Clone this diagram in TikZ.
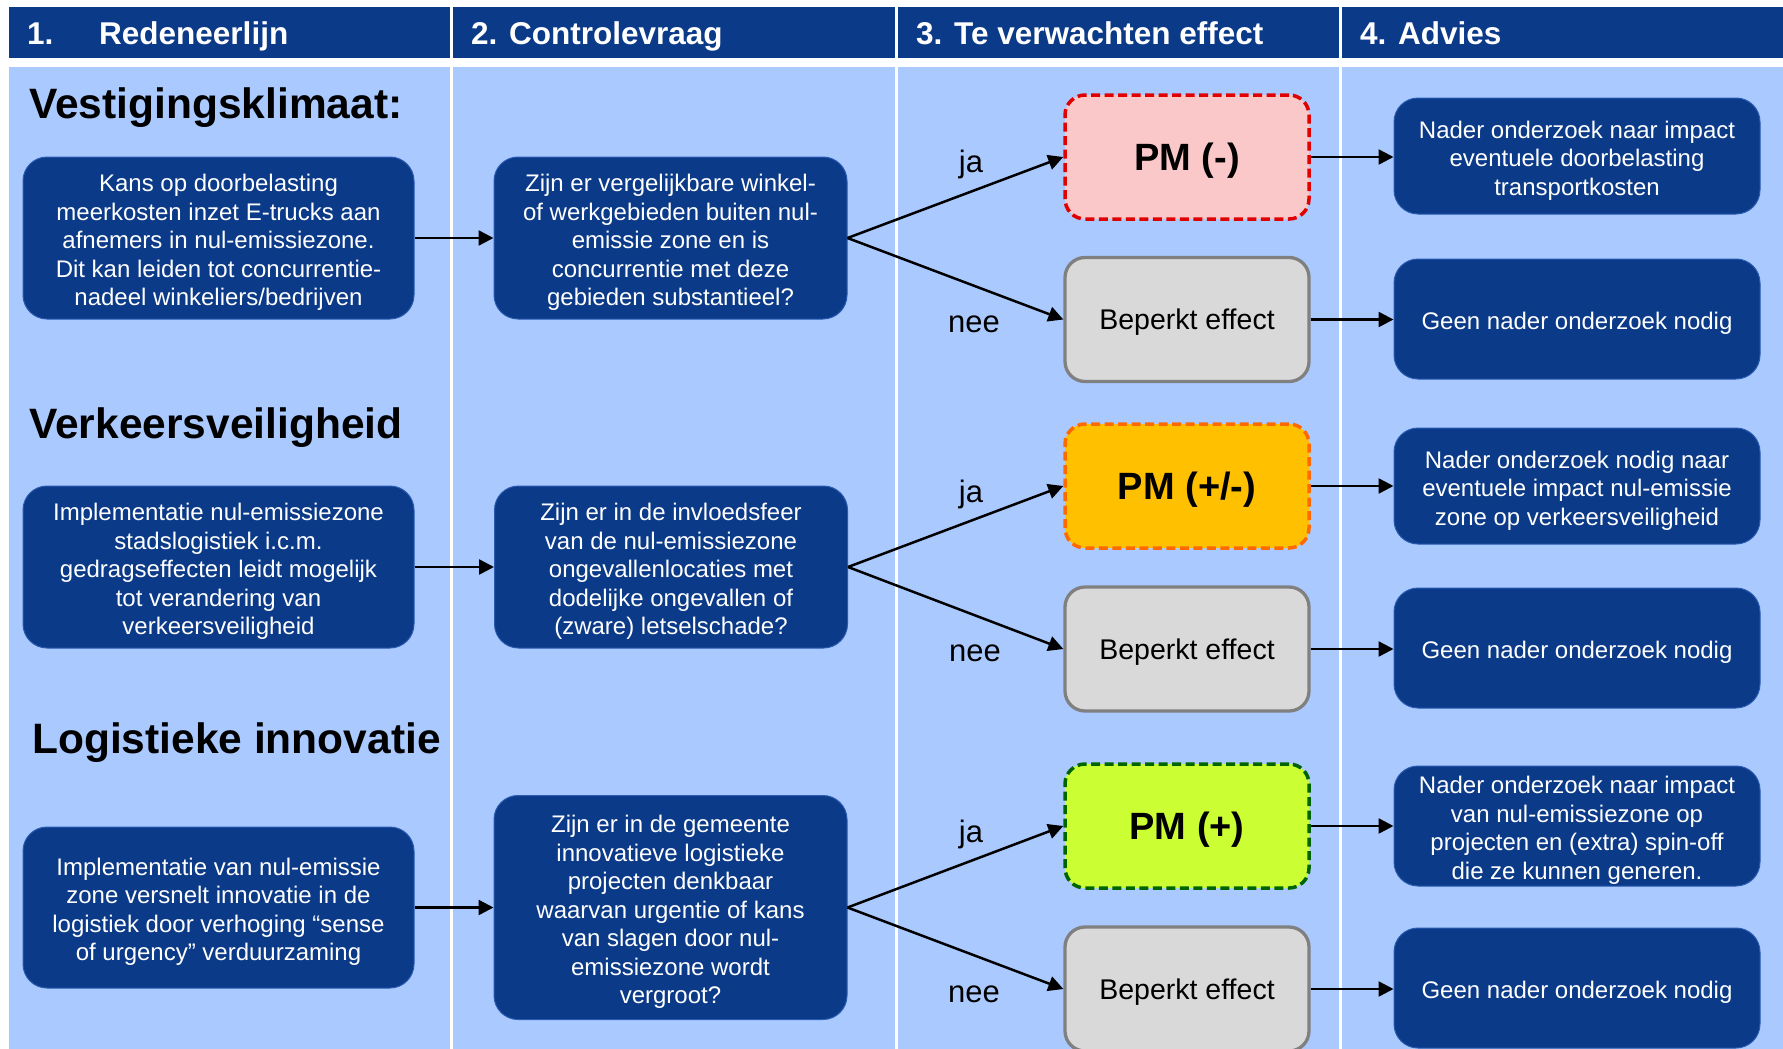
\documentclass[tikz,border=0pt]{standalone}
\usepackage{fontspec}
\setmainfont{Liberation Sans}
\usetikzlibrary{arrows.meta}
\definecolor{navy}{HTML}{0B3A88}
\definecolor{navyedge}{HTML}{2A5BB0}
\definecolor{lblue}{HTML}{AACAFF}
\definecolor{pmred}{HTML}{FAC8C8}
\definecolor{redb}{HTML}{E00000}
\definecolor{pmorange}{HTML}{FFC000}
\definecolor{orangeb}{HTML}{FF6A00}
\definecolor{pmgreen}{HTML}{CCFF33}
\definecolor{greenb}{HTML}{006400}
\definecolor{grayf}{HTML}{D9D9D9}
\definecolor{grayb}{HTML}{808080}
\begin{document}
\begin{tikzpicture}[x=1pt,y=-1pt,
  darkbox/.style={rectangle, rounded corners=24pt, fill=navy, draw=navyedge, line width=1pt, inner sep=0pt},
  wtxt/.style={text=white, align=center, font=\fontsize{24}{28.5}\selectfont, inner sep=0pt, yshift=-4.5pt},
  pmbox/.style={rectangle, rounded corners=20pt, line width=3.5pt, dash pattern=on 9pt off 4.5pt,
    minimum width=244pt, minimum height=124pt, inner sep=0pt},
  pmtxt/.style={font=\bfseries\fontsize{38}{40}\selectfont, inner sep=0pt, yshift=-4pt},
  grbox/.style={rectangle, rounded corners=20pt, line width=3.3pt, fill=grayf, draw=grayb,
    minimum width=244pt, minimum height=124pt, inner sep=0pt},
  grtxt/.style={font=\fontsize{28.5}{31}\selectfont, inner sep=0pt, yshift=-3pt},
  hdr/.style={anchor=base west, text=white, font=\bfseries\fontsize{31.5}{34}\selectfont, inner sep=0pt},
  sect/.style={anchor=base west, font=\bfseries\fontsize{42.5}{46}\selectfont, inner sep=0pt},
  lbl/.style={font=\fontsize{31}{33}\selectfont, inner sep=0pt},
  arr/.style={line width=2.5pt, -{Triangle[length=15pt,width=15pt]}},
]
\useasboundingbox (0,0) rectangle (1783,1049);
\clip (0,0) rectangle (1783,1049);
\fill[white] (0,0) rectangle (1783,1049);
\fill[navy] (9,7) rectangle (1783,58);
\fill[lblue] (9,67) rectangle (1783,1049);
\foreach \xx in {451,896,1340} {\draw[white,line width=3pt] (\xx,7) -- (\xx,1049);}

% headers
\node[hdr] (h1a) at (27,45) {1.};
\node[hdr] (h1) at (99,45) {Redeneerlijn};
\node[hdr] (h2) at (471,45) {2. Controlevraag};
\node[hdr] (h3) at (916,45) {3. Te verwachten effect};
\node[hdr] (h4) at (1360,45) {4. Advies};

% section titles
\node[sect] (s1) at (29,118) {Vestigingsklimaat:};
\node[sect] (s2) at (29,438) {Verkeersveiligheid};
\node[sect] (s3) at (32,753) {Logistieke innovatie};

% row 1
\node[darkbox, minimum width=391pt, minimum height=162pt] (a1) at (218.5,238) {};
\node[wtxt] (a1t) at (a1.center)
  {Kans op doorbelasting\\meerkosten inzet E-trucks aan\\afnemers in nul-emissiezone.\\Dit kan leiden tot concurrentie-\\nadeel winkeliers/bedrijven};
\node[darkbox, minimum width=353pt, minimum height=162pt] (b1) at (670.5,238) {};
\node[wtxt] (b1t) at (b1.center)
  {Zijn er vergelijkbare winkel-\\of werkgebieden buiten nul-\\emissie zone en is\\concurrentie met deze\\gebieden substantieel?};
\node[pmbox, fill=pmred, draw=redb] (p1) at (1187,157) {};
\node[pmtxt] (p1t) at (p1.center) {PM (-)};
\node[grbox] (n1) at (1187,319.5) {};
\node[grtxt] (n1t) at (n1.center) {Beperkt effect};
\node[darkbox, minimum width=366pt, minimum height=116pt] (c1) at (1577,156) {};
\node[wtxt] (c1t) at (c1.center)
  {Nader onderzoek naar impact\\eventuele doorbelasting\\transportkosten};
\node[darkbox, minimum width=366pt, minimum height=120pt] (d1) at (1577,319) {};
\node[wtxt] (d1t) at (d1.center) {Geen nader onderzoek nodig};
\node[lbl] (j1) at (971,164) {ja};
\node[lbl] (e1) at (974,324) {nee};

% row 2
\node[darkbox, minimum width=391pt, minimum height=162pt] (a2) at (218.5,567) {};
\node[wtxt] (a2t) at (a2.center)
  {Implementatie nul-emissiezone\\stadslogistiek i.c.m.\\gedragseffecten leidt mogelijk\\tot verandering van\\verkeersveiligheid};
\node[darkbox, minimum width=353pt, minimum height=162pt] (b2) at (671,567) {};
\node[wtxt] (b2t) at (b2.center)
  {Zijn er in de invloedsfeer\\van de nul-emissiezone\\ongevallenlocaties met\\dodelijke ongevallen of\\(zware) letselschade?};
\node[pmbox, fill=pmorange, draw=orangeb] (p2) at (1187,486) {};
\node[pmtxt] (p2t) at (p2.center) {PM (+/-)};
\node[grbox] (n2) at (1187,649) {};
\node[grtxt] (n2t) at (n2.center) {Beperkt effect};
\node[darkbox, minimum width=366pt, minimum height=116pt] (c2) at (1577,486) {};
\node[wtxt] (c2t) at (c2.center)
  {Nader onderzoek nodig naar\\eventuele impact nul-emissie\\zone op verkeersveiligheid};
\node[darkbox, minimum width=366pt, minimum height=120pt] (d2) at (1577,648) {};
\node[wtxt] (d2t) at (d2.center) {Geen nader onderzoek nodig};
\node[lbl] (j2) at (971,494) {ja};
\node[lbl] (e2) at (975,653) {nee};

% row 3
\node[darkbox, minimum width=391pt, minimum height=161pt] (a3) at (218.5,907.5) {};
\node[wtxt] (a3t) at (a3.center)
  {Implementatie van nul-emissie\\zone versnelt innovatie in de\\logistiek door verhoging “sense\\of urgency” verduurzaming};
\node[darkbox, minimum width=353pt, minimum height=224pt] (b3) at (670.5,907.5) {};
\node[wtxt] (b3t) at (b3.center)
  {Zijn er in de gemeente\\innovatieve logistieke\\projecten denkbaar\\waarvan urgentie of kans\\van slagen door nul-\\emissiezone wordt\\vergroot?};
\node[pmbox, fill=pmgreen, draw=greenb] (p3) at (1187,826) {};
\node[pmtxt] (p3t) at (p3.center) {PM (+)};
\node[grbox] (n3) at (1187,989) {};
\node[grtxt] (n3t) at (n3.center) {Beperkt effect};
\node[darkbox, minimum width=366pt, minimum height=120pt] (c3) at (1577,826) {};
\node[wtxt] (c3t) at (c3.center)
  {Nader onderzoek naar impact\\van nul-emissiezone op\\projecten en (extra) spin-off\\die ze kunnen generen.};
\node[darkbox, minimum width=366pt, minimum height=120pt] (d3) at (1577,988) {};
\node[wtxt] (d3t) at (d3.center) {Geen nader onderzoek nodig};
\node[lbl] (j3) at (971,834) {ja};
\node[lbl] (e3) at (974,994) {nee};

% connectors
\foreach \r in {1,2,3} {
  \draw[arr] (a\r.east) -- (b\r.west);
  \draw[arr] (b\r.east) -- (p\r.west);
  \draw[arr] (b\r.east) -- (n\r.west);
  \draw[arr] (p\r.east) -- (p\r.east -| c\r.west);
  \draw[arr] (n\r.east) -- (n\r.east -| d\r.west);
}
\end{tikzpicture}
\end{document}
